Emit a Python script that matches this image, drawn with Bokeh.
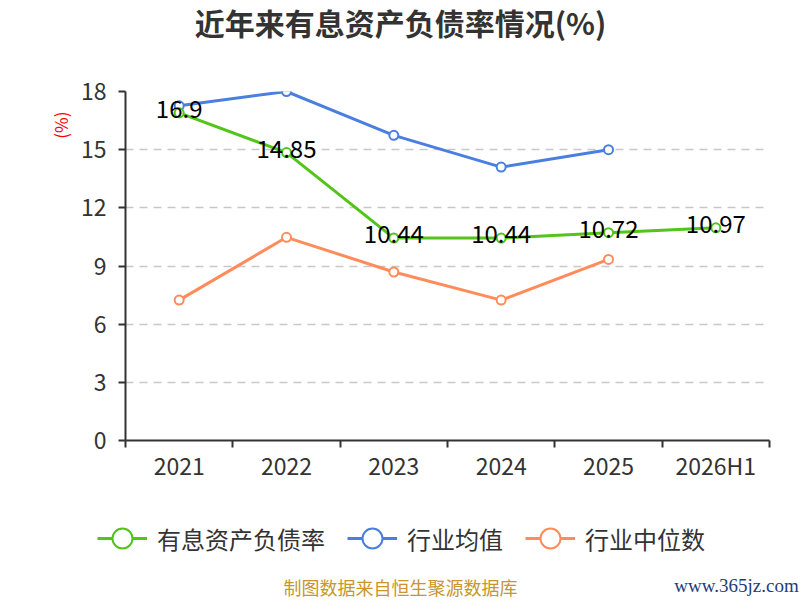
from bokeh.plotting import figure
from bokeh.models import (Range1d, FixedTicker, Label, Legend, LegendItem,
                          ColumnDataSource, Title)
from bokeh.layouts import column, row
from bokeh.core.properties import value
from bokeh.embed import file_html
from bokeh.resources import INLINE

categories = ["2021", "2022", "2023", "2024", "2025", "2026H1"]
rate = [16.9, 14.85, 10.44, 10.44, 10.72, 10.97]
industry_mean = [17.26, 18.0, 15.74, 14.1, 15.0]
industry_median = [7.24, 10.48, 8.69, 7.24, 9.34]
y_ticks = [0, 3, 6, 9, 12, 15, 18]
series_names = ["有息资产负债率", "行业均值", "行业中位数"]

FONT = "Noto Sans CJK SC"
GREEN = "#52C41A"
BLUE = "#4A7FE0"
ORANGE = "#FF8C5A"
W = 800
NAN = float("nan")

xpos = [i + 0.5 for i in range(len(categories))]

# ---------- header (title) ----------
HEAD_H = 60
head = figure(width=W, height=HEAD_H, output_backend="svg", toolbar_location=None,
              x_range=Range1d(0, W), y_range=Range1d(HEAD_H, 0),
              x_axis_type=None, y_axis_type=None, min_border=0)
head.outline_line_color = None
head.add_layout(Label(x=400, y=21, text="近年来有息资产负债率情况(%)",
                      text_font=FONT, text_font_size="30px", text_font_style="bold",
                      text_color="#333333", text_align="center", text_baseline="middle"))

# ---------- main chart ----------
MAIN_H = 440
p = figure(width=W, height=MAIN_H, output_backend="svg", toolbar_location=None,
           x_range=Range1d(0, len(categories)), y_range=Range1d(0, 18),
           min_border_left=125, min_border_right=31, min_border_top=31,
           min_border_bottom=MAIN_H - 31 - 349)
p.outline_line_color = None

p.xaxis.ticker = FixedTicker(ticks=xpos, minor_ticks=list(range(len(categories) + 1)))
p.xaxis.major_label_overrides = {x: c for x, c in zip(xpos, categories)}
p.xaxis.major_tick_line_color = None
p.xaxis.major_tick_out = 0
p.xaxis.minor_tick_out = 7
p.xaxis.minor_tick_in = 0
p.xaxis.minor_tick_line_color = "#333333"
p.xaxis.minor_tick_line_width = 2
p.xaxis.axis_line_color = "#333333"
p.xaxis.axis_line_width = 2
p.xaxis.major_label_standoff = 0
p.yaxis.ticker = FixedTicker(ticks=y_ticks)
p.yaxis.minor_tick_line_color = None
p.yaxis.major_tick_out = 7
p.yaxis.major_tick_in = 0
p.yaxis.major_tick_line_color = "#333333"
p.yaxis.major_tick_line_width = 2
p.yaxis.axis_line_color = "#333333"
p.yaxis.axis_line_width = 2
p.yaxis.major_label_standoff = 12
for ax in (p.xaxis, p.yaxis):
    ax.major_label_text_font = FONT
    ax.major_label_text_font_size = "23px"
    ax.major_label_text_color = "#333333"

p.xgrid.grid_line_color = None
p.ygrid.ticker = FixedTicker(ticks=y_ticks)
p.ygrid.grid_line_color = "#c8c8c8"
p.ygrid.grid_line_dash = "8 6"
p.ygrid.grid_line_width = 1.5

p.add_layout(Title(text="(%)", align="right", text_color="red", text_font=FONT,
                   text_font_size="17px", text_font_style="normal", offset=20),
             "left")


def series(fig, vals, color):
    xs = xpos[:len(vals)]
    src = ColumnDataSource(dict(x=xs, y=vals))
    fig.line("x", "y", source=src, line_color=color, line_width=3)
    fig.scatter("x", "y", source=src, size=9, fill_color="white",
                line_color=color, line_width=2)


series(p, industry_mean, BLUE)
series(p, industry_median, ORANGE)
series(p, rate, GREEN)

lab_src = ColumnDataSource(dict(x=xpos, y=rate, t=[f"{v:g}" for v in rate]))
p.text("x", "y", text="t", source=lab_src, text_align="center",
       text_baseline="middle", y_offset=-4, text_font=value(FONT),
       text_font_size="24px", text_color="black")

# ---------- footer (legend + source) ----------
FOOT_H = 100
foot = figure(width=W, height=FOOT_H, output_backend="svg", toolbar_location=None,
              x_range=Range1d(0, W), y_range=Range1d(FOOT_H, 0),
              x_axis_type=None, y_axis_type=None, min_border=0)
foot.outline_line_color = None
items = []
for name, color in zip(series_names, [GREEN, BLUE, ORANGE]):
    dummy = ColumnDataSource(dict(x=[NAN], y=[NAN]))
    ln = foot.line("x", "y", source=dummy, line_color=color, line_width=3)
    sc = foot.scatter("x", "y", source=dummy, fill_color="white",
                      line_color=color, line_width=2)
    items.append(LegendItem(label=name, renderers=[ln, sc]))
legend = Legend(items=items, orientation="horizontal", location=(97, 37),
                glyph_width=50, glyph_height=50, label_height=50,
                label_standoff=10, spacing=22, padding=0, margin=0,
                border_line_alpha=0, background_fill_alpha=0,
                label_text_font=FONT, label_text_font_size="24px",
                label_text_color="#333333")
foot.add_layout(legend, "center")
foot.add_layout(Label(x=400, y=86, text="制图数据来自恒生聚源数据库",
                      text_font=FONT, text_font_size="18px", text_color="#C8962A",
                      text_align="center", text_baseline="middle"))
foot.add_layout(Label(x=736, y=85, text="www.365jz.com",
                      text_font="Liberation Serif", text_font_size="19px",
                      text_color="#1F3C7A", text_align="center", text_baseline="middle"))

layout = column(row(head), row(p), row(foot), spacing=0)
open("out.html", "w").write(file_html(layout, INLINE))
